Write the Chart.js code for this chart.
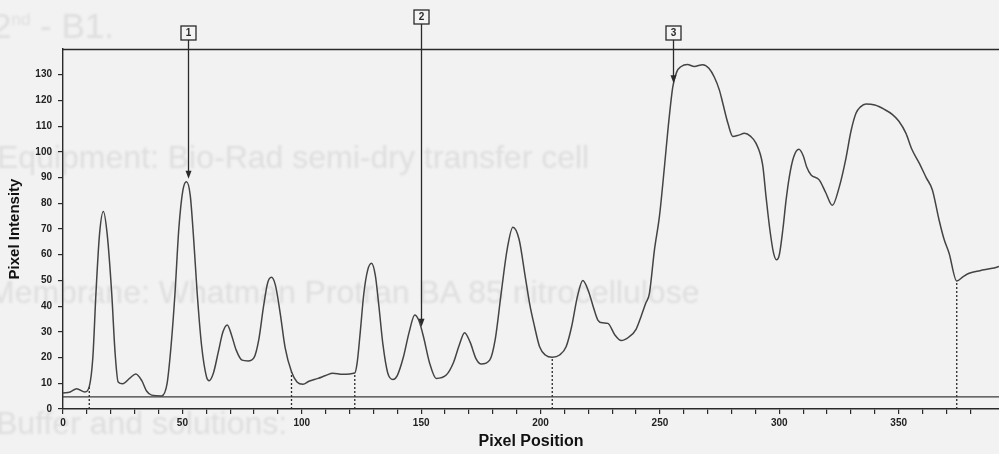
<!DOCTYPE html>
<html>
<head>
<meta charset="utf-8">
<script src="https://cdn.jsdelivr.net/npm/chart.js@4.4.1/dist/chart.umd.min.js"></script>
<style>
  html, body { margin: 0; padding: 0; background: #f2f2f2; }
  #wrap { position: relative; width: 999px; height: 454px; overflow: hidden; }
  .ghost {
    position: absolute; white-space: nowrap; line-height: 1;
    font-family: "Liberation Sans", Arial, sans-serif; font-size: 32px;
    color: #dedede; filter: blur(0.8px);
  }
  #chart { position: absolute; left: 0; top: 0; }
</style>
</head>
<body>
<div id="wrap">
  <div class="ghost" style="left:-8px; top:8px; font-size:35px;">2<sup style="font-size:17px">nd</sup> - B1.</div>
  <div class="ghost" style="left:-3px; top:141px;">Equipment: Bio-Rad semi-dry transfer cell</div>
  <div class="ghost" style="left:-12px; top:276px;">Membrane: Whatman Protran BA 85 nitrocellulose</div>
  <div class="ghost" style="left:-4px; top:407px;">Buffer and solutions:</div>
  <canvas id="chart" width="999" height="454"></canvas>
</div>
<script>
// densitometry trace of the lane
const positions = [
  0, 3, 5.7, 9.2, 11, 12.5, 13.8, 15.3, 16.9, 18.5, 20.4, 21.8, 23.1, 25, 28, 30.5, 33, 35, 37.1, 41.3,
  43.6, 45.3, 46.9, 48.5, 50.2, 51.7, 53.3, 54.8, 56.2, 58, 60.1, 61.2, 63, 65, 67, 68.8, 70.5, 72.5, 75, 77.5,
  80, 82, 84, 85.7, 87.3, 89, 91, 93, 95.7, 98, 100.5, 103, 106.8, 110, 113, 117, 122.2, 123.2, 124.5, 126,
  127.6, 129.2, 130.8, 132.3, 134, 136, 138.2, 140, 142.5, 145, 147.3, 149, 151, 153.5, 156.3, 160.5, 163.5, 166, 168.2, 170.5,
  173, 175.2, 178.7, 181, 183.5, 186, 188.4, 191, 193.5, 195.4, 197.5, 199.6, 202, 204.9, 208, 210.7, 213, 215.5, 217.7, 220,
  222, 224, 226, 228.2, 231, 233.8, 237, 240, 242.1, 244, 245.6, 247.7, 249.8, 251.9, 253.5, 255.4, 257, 258.9, 261.5, 264.4,
  267.9, 270.5, 272.8, 274.9, 276.3, 278.5, 280.5, 283, 285.4, 288, 290.2, 293, 294.5, 296, 297.5, 298.8, 300, 301.5, 302.8, 304.2,
  306, 308.2, 310, 311.5, 313.3, 316.7, 319.5, 322.2, 325, 327.9, 330, 332.1, 334, 336.3, 340, 344, 347.4, 350, 353, 355.5,
  358.6, 361.5, 364.1, 366.9, 369, 371.1, 374.3, 377, 379.5, 384, 389.2, 392
];
const intensities = [
  6.2, 6.6, 7.9, 6.6, 8.7, 20, 45, 68, 76.8, 68, 45, 22, 10.5, 9.8, 12, 13.6, 11, 7, 5.4, 5.1,
  10, 25, 45, 70, 85, 88.4, 83, 65, 45, 25, 12.5, 11, 14, 22, 30, 32.7, 29, 23, 19, 18.7,
  20, 27, 40, 49, 51.2, 48, 37, 24, 14.5, 10.5, 9.6, 10.8, 11.9, 13, 13.9, 13.5, 14, 18, 30, 45,
  54, 56.7, 52, 40, 25, 14, 11.5, 13, 20, 30, 36.6, 34.5, 28, 18, 11.9, 13.2, 18, 25, 29.7, 26,
  19.5, 17.5, 19, 27, 45, 62, 70.7, 66, 52, 41.1, 32, 24.2, 21, 20.1, 21, 24.2, 32, 44, 50, 46,
  40, 34.6, 33.5, 33.3, 29, 26.6, 28, 31, 36, 41, 45, 61.9, 75, 94.3, 110, 125.4, 131, 133.2, 134, 133.2,
  133.9, 132.5, 129, 124, 119, 111, 106, 106.5, 107.2, 106, 103.4, 95, 82, 70, 61, 58, 60, 70, 81, 90.4,
  98, 101, 98.5, 94, 91, 89.1, 84, 79.2, 86, 97.5, 108, 115, 117.5, 118.6, 118.2, 116.5, 114.5, 112, 107.3, 101,
  95.6, 90, 85.2, 73.5, 66, 60.6, 49.8, 51.5, 52.8, 53.8, 54.7, 55.4
];

// background level and peak boundaries
const baselineLevel = 4.7;
const dropPositions = [11, 95.7, 122.2, 204.9, 374.3];

// numbered band markers
const markerLabels = ['1', '2', '3'];
const markerPositions = [52.4, 150, 255.4];
const markerTips = [89.5, 32, 126.7];

const xMin = 0, xMax = 392, yMin = 0, yMax = 140;

const trace = positions.map((x, i) => ({ x: x, y: intensities[i] }));
const dropSets = dropPositions.map(x => ({
  data: [{ x: x, y: 0 }, { x: x, y: intensities[positions.indexOf(x)] }],
  borderColor: '#2a2a2a',
  borderWidth: 1.3,
  borderDash: [2, 2],
  pointRadius: 0
}));

const ink = '#2a2a2a';
const font = 'Liberation Sans, Arial, sans-serif';

const markerPlugin = {
  id: 'markers',
  afterDatasetsDraw(chart, args, opts) {
    const { ctx, chartArea, scales: { x, y } } = chart;
    ctx.save();
    // frame line along the top
    ctx.strokeStyle = ink;
    ctx.lineWidth = 1.4;
    ctx.beginPath();
    ctx.moveTo(chartArea.left, chartArea.top + 0.5);
    ctx.lineTo(chartArea.right, chartArea.top + 0.5);
    ctx.stroke();

    ctx.font = 'bold 10px ' + font;
    ctx.textAlign = 'center';
    ctx.textBaseline = 'middle';
    markerLabels.forEach((lab, i) => {
      const px = Math.round(x.getPixelForValue(markerPositions[i])) + 0.5;
      const tip = y.getPixelForValue(markerTips[i]);
      const cy = opts.boxY[i];
      const w = 15, h = 14;
      ctx.lineWidth = 1.3;
      ctx.strokeStyle = ink;
      ctx.fillStyle = '#f4f4f4';
      ctx.fillRect(px - w / 2, cy - h / 2, w, h);
      ctx.strokeRect(px - w / 2, cy - h / 2, w, h);
      ctx.fillStyle = ink;
      ctx.fillText(lab, px, cy + 0.5);
      ctx.beginPath();
      ctx.moveTo(px, cy + h / 2);
      ctx.lineTo(px, tip - 6);
      ctx.stroke();
      ctx.beginPath();
      ctx.moveTo(px - 3, tip - 8);
      ctx.lineTo(px + 3, tip - 8);
      ctx.lineTo(px, tip);
      ctx.closePath();
      ctx.fill();
    });
    ctx.restore();
  }
};

new Chart(document.getElementById('chart'), {
  type: 'line',
  data: {
    datasets: [
      {
        data: trace,
        borderColor: '#444444',
        borderWidth: 1.5,
        pointRadius: 0,
        cubicInterpolationMode: 'monotone'
      },
      {
        data: [{ x: xMin, y: baselineLevel }, { x: xMax, y: baselineLevel }],
        borderColor: '#3a3a3a',
        borderWidth: 1.2,
        pointRadius: 0
      },
      ...dropSets
    ]
  },
  plugins: [markerPlugin],
  options: {
    responsive: false,
    animation: false,
    layout: { padding: { top: 49, right: 0, left: 0, bottom: 0 } },
    plugins: {
      legend: { display: false },
      tooltip: { enabled: false },
      markers: { boxY: [33, 17, 33] }
    },
    scales: {
      x: {
        type: 'linear',
        min: xMin,
        max: xMax,
        afterFit: s => { s.height = 45; },
        border: { display: true, color: ink, width: 1.4 },
        grid: { drawOnChartArea: false, drawTicks: true, tickLength: 5, color: ink, lineWidth: 1.2 },
        ticks: {
          stepSize: 10,
          autoSkip: false,
          maxRotation: 0,
          padding: 3,
          color: '#222',
          font: { family: font, size: 10, weight: 'bold' },
          callback: v => (v % 50 === 0 ? v : (v % 10 === 0 ? '' : null))
        },
        title: {
          display: true,
          text: 'Pixel Position',
          color: '#111',
          font: { family: font, size: 16, weight: 'bold' },
          padding: { top: 0, bottom: 3 }
        }
      },
      y: {
        min: yMin,
        max: yMax,
        afterFit: s => { s.width = 63; },
        border: { display: true, color: ink, width: 1.4 },
        grid: { drawOnChartArea: false, drawTicks: true, tickLength: 5, color: ink, lineWidth: 1.2 },
        ticks: {
          stepSize: 10,
          autoSkip: false,
          padding: 6,
          color: '#222',
          font: { family: font, size: 10, weight: 'bold' },
          callback: v => (v < yMax ? v : null)
        },
        title: {
          display: true,
          text: 'Pixel Intensity',
          color: '#111',
          font: { family: font, size: 15, weight: 'bold' },
          padding: { top: 6, bottom: 0 }
        }
      }
    }
  }
});
</script>
</body>
</html>
